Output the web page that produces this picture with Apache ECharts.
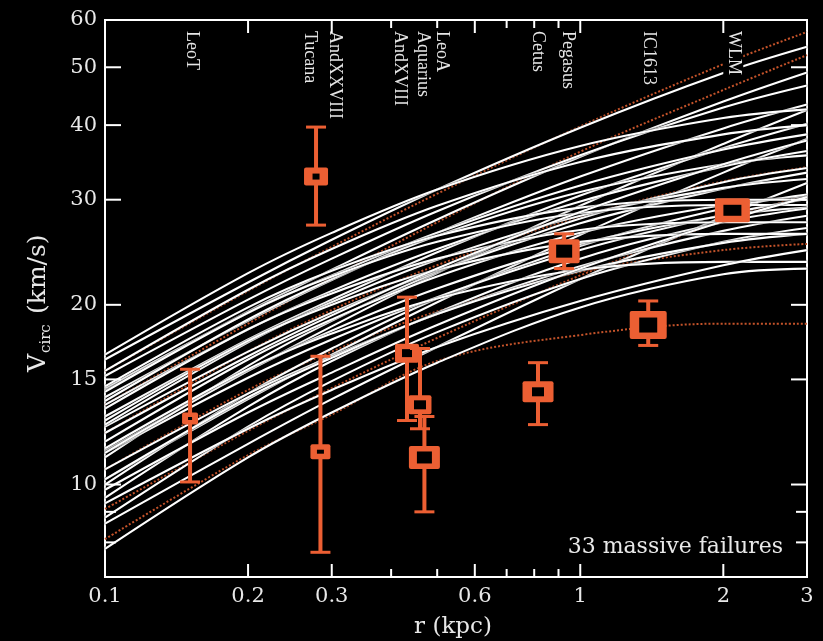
<!DOCTYPE html>
<html>
<head>
<meta charset="utf-8">
<script src="https://cdn.jsdelivr.net/npm/echarts@6/dist/echarts.min.js"></script>
<style>
html,body{margin:0;padding:0;background:#000;}
#chart{width:823px;height:641px;}
</style>
</head>
<body>
<div id="chart"></div>
<script>
// ---------- DATA ----------
const rGrid = [0.1, 0.2, 0.3, 0.5, 1, 2, 3];

// white model rotation curves, V (km/s) at rGrid
const whiteCurves = [
  [16.2, 21.8, 25.7, 31.2, 39.6, 48.9, 54.1],
  [14.4, 19.5, 22.9, 27.8, 35.4, 43.8, 49.0],
  [15.2, 20.4, 23.9, 28.7, 35.6, 42.8, 46.6],
  [14.0, 18.8, 22.0, 26.4, 32.8, 39.5, 43.3],
  [11.4, 15.5, 18.4, 22.6, 29.3, 37.2, 42.4],
  [16.5, 22.6, 26.4, 31.2, 36.9, 41.1, 42.5],
  [13.0, 17.5, 20.4, 24.5, 30.5, 36.6, 40.2],
  [14.5, 19.4, 22.4, 26.4, 31.7, 36.4, 38.6],
  [10.2, 13.9, 16.5, 20.2, 26.2, 33.3, 37.9],
  [13.8, 18.9, 22.1, 26.1, 30.9, 34.4, 35.6],
  [13.6, 18.2, 21.1, 24.8, 29.8, 34.1, 36.2],
  [11.1, 15.8, 18.8, 22.7, 27.9, 32.1, 33.9],
  [12.5, 16.7, 19.4, 22.8, 27.4, 31.3, 33.3],
  [12.6, 17.3, 20.2, 23.8, 28.2, 31.4, 32.5],
  [8.6, 11.7, 13.9, 17.0, 22.1, 28.1, 32.0],
  [11.8, 16.2, 18.9, 22.3, 26.4, 29.4, 30.4],
  [10.0, 14.2, 16.9, 20.5, 25.1, 29.0, 30.6],
  [11.3, 15.1, 17.5, 20.6, 24.7, 28.3, 30.1],
  [14.6, 19.8, 22.8, 26.1, 29.1, 30.0, 30.0],
  [14.3, 19.4, 22.3, 25.5, 28.5, 29.4, 29.4],
  [11.3, 15.5, 18.1, 21.3, 25.3, 28.2, 29.1],
  [9.5, 13.5, 16.1, 19.4, 23.9, 27.5, 29.0],
  [10.6, 14.2, 16.4, 19.3, 23.2, 26.6, 28.2],
  [13.4, 18.2, 20.9, 23.9, 26.7, 27.5, 27.5],
  [8.8, 12.5, 14.9, 18.0, 22.1, 25.5, 26.9],
  [10.2, 14.0, 16.3, 19.3, 22.8, 25.4, 26.3],
  [12.8, 17.4, 20.0, 22.9, 25.5, 26.3, 26.3],
  [7.8, 11.1, 13.2, 16.0, 19.8, 22.5, 23.0],
  [11.5, 15.6, 17.9, 20.5, 22.9, 23.6, 23.6],
  [9.3, 12.4, 14.4, 17.0, 20.3, 23.3, 24.7],
  [15.5, 21.2, 24.8, 29.3, 34.7, 38.6, 40.0],
  [12.2, 16.4, 19.2, 23.0, 28.6, 34.4, 37.7],
  [9.8, 13.2, 15.4, 18.5, 23.0, 27.6, 30.3]
];

// dotted orange model curves, V (km/s) at rGrid
const orangeCurves = [
  [15.5, 21.1, 25.0, 30.7, 39.8, 50.6, 57.3],
  [13.6, 18.6, 22.2, 27.5, 36.1, 45.8, 52.4],
  [12.2, 16.7, 19.6, 23.3, 28.1, 32.2, 34.0],
  [9.1, 12.3, 14.5, 17.6, 22.4, 27.7, 30.5],
  [10.6, 14.4, 16.7, 19.5, 22.7, 24.7, 25.3],
  [8.1, 11.2, 13.1, 16.1, 17.8, 18.6, 18.6]
];

// observed galaxies
const galaxyNames = ['LeoT', 'Tucana', 'AndXXVIII', 'AndXVIII', 'Aquarius', 'LeoA', 'Cetus', 'Pegasus', 'IC1613', 'WLM'];
const galaxyR     = [0.151, 0.278, 0.284, 0.432, 0.460, 0.470, 0.815, 0.925, 1.39, 2.09];
const galaxyV     = [12.9, 32.8, 11.35, 16.6, 13.6, 11.1, 14.3, 24.6, 18.5, 28.8];
const galaxyVHi   = [15.6, 39.7, 16.4, 20.6, 16.9, 13.0, 16.0, 26.3, 20.3, 29.3];
const galaxyVLo   = [10.1, 27.2, 7.7, 12.8, 12.4, 9.0, 12.6, 23.0, 17.1, 28.3];
// r at which each name label is printed along the top
const labelR      = [0.1525, 0.270, 0.305, 0.418, 0.467, 0.512, 0.812, 0.939, 1.391, 2.099];

// axis ticks
const xMajorTicks = [0.2, 0.3, 0.6, 1, 2];
const xMinorTicks = [0.4, 0.5, 0.7, 0.8, 0.9];
const yMajorTicks = [10, 15, 20, 30, 40, 50];
const yMinorTicks = [8, 9];
const xTickLabels = [0.1, 0.2, 0.3, 0.6, 1, 2, 3];
const yTickLabels = [10, 15, 20, 30, 40, 50, 60];

// ---------- STYLE ----------
const markerW = [16, 24, 20, 24, 23, 31, 31, 31, 37, 35];
const markerH = [12, 18, 15, 19, 19, 23, 21, 24, 28, 24];
const holeW   = [4, 7, 7, 10, 12, 15, 12, 16, 18, 18];
const holeH   = [3, 6, 4, 8, 9, 12, 9, 13, 15, 11];
const ORANGE = '#ec5f33';
const DOTTED = '#c4532a';
const SERIF = '"DejaVu Serif", serif';

const chart = echarts.init(document.getElementById('chart'));

const series = [];
orangeCurves.forEach((c) => {
  series.push({
    type: 'line', z: 2, smooth: 0.35, showSymbol: false, silent: true,
    data: rGrid.map((r, i) => [r, c[i]]),
    lineStyle: { color: DOTTED, width: 2, type: [2, 2] }
  });
});
whiteCurves.forEach((c) => {
  series.push({
    type: 'line', z: 3, smooth: 0.35, showSymbol: false, silent: true,
    data: rGrid.map((r, i) => [r, c[i]]),
    lineStyle: { color: '#ffffff', width: 2.1, shadowColor: '#000', shadowBlur: 1.5 }
  });
});

// error bars + hollow squares
series.push({
  type: 'custom', z: 6, silent: true,
  data: galaxyR.map((r, i) => [r, galaxyV[i], galaxyVLo[i], galaxyVHi[i], i]),
  encode: { x: 0, y: 1 },
  renderItem: function (params, api) {
    const i = api.value(4);
    const c = api.coord([api.value(0), api.value(1)]);
    const lo = api.coord([api.value(0), api.value(2)]);
    const hi = api.coord([api.value(0), api.value(3)]);
    const cw = 10;
    const w = markerW[i], h = markerH[i], hw = holeW[i], hh = holeH[i];
    return {
      type: 'group',
      children: [
        { type: 'line', shape: { x1: c[0], y1: hi[1], x2: c[0], y2: lo[1] }, style: { stroke: ORANGE, lineWidth: 4 } },
        { type: 'line', shape: { x1: c[0] - cw, y1: hi[1], x2: c[0] + cw, y2: hi[1] }, style: { stroke: ORANGE, lineWidth: 3 } },
        { type: 'line', shape: { x1: c[0] - cw, y1: lo[1], x2: c[0] + cw, y2: lo[1] }, style: { stroke: ORANGE, lineWidth: 3 } },
        { type: 'rect', shape: { x: c[0] - w / 2, y: c[1] - h / 2, width: w, height: h, r: 2 }, style: { fill: ORANGE } },
        { type: 'rect', shape: { x: c[0] - hw / 2, y: c[1] - hh / 2, width: hw, height: hh }, style: { fill: '#000' } }
      ]
    };
  }
});

// galaxy name labels along the top
series.push({
  type: 'custom', z: 8, silent: true,
  data: labelR.map((r, i) => [r, 50, i]),
  encode: { x: 0, y: 1 },
  renderItem: function (params, api) {
    const i = api.value(2);
    const p = api.coord([api.value(0), api.value(1)]);
    return {
      type: 'text', x: p[0], y: params.coordSys.y + 9, rotation: -Math.PI / 2,
      style: {
        text: galaxyNames[i], fill: '#e6e6e6', font: '18px "Liberation Serif", serif',
        align: 'left', verticalAlign: 'middle', backgroundColor: '#000', padding: [1, 2, 1, 2]
      }
    };
  }
});

// x ticks (bottom & top)
series.push({
  type: 'custom', z: 9, silent: true,
  data: xMajorTicks.map(v => [v, 10, 1]).concat(xMinorTicks.map(v => [v, 10, 0])),
  encode: { x: 0, y: 1 },
  renderItem: function (params, api) {
    const cs = params.coordSys;
    const x = api.coord([api.value(0), 10])[0];
    const len = api.value(2) ? 13 : 8;
    return {
      type: 'group', children: [
        { type: 'line', shape: { x1: x, y1: cs.y + cs.height, x2: x, y2: cs.y + cs.height - len }, style: { stroke: '#fff', lineWidth: 2 } },
        { type: 'line', shape: { x1: x, y1: cs.y, x2: x, y2: cs.y + len }, style: { stroke: '#fff', lineWidth: 2 } }
      ]
    };
  }
});
// y ticks (left & right)
series.push({
  type: 'custom', z: 9, silent: true,
  data: yMajorTicks.map(v => [1, v, 1]).concat(yMinorTicks.map(v => [1, v, 0])),
  encode: { x: 0, y: 1 },
  renderItem: function (params, api) {
    const cs = params.coordSys;
    const y = api.coord([1, api.value(1)])[1];
    const len = api.value(2) ? 16 : 11;
    return {
      type: 'group', children: [
        { type: 'line', shape: { x1: cs.x, y1: y, x2: cs.x + len, y2: y }, style: { stroke: '#fff', lineWidth: 2 } },
        { type: 'line', shape: { x1: cs.x + cs.width, y1: y, x2: cs.x + cs.width - len, y2: y }, style: { stroke: '#fff', lineWidth: 2 } }
      ]
    };
  }
});
// tick labels
series.push({
  type: 'custom', z: 9, silent: true,
  data: xTickLabels.map(v => [v, 10]),
  encode: { x: 0, y: 1 },
  renderItem: function (params, api) {
    const cs = params.coordSys;
    const x = api.coord([api.value(0), 10])[0];
    return {
      type: 'text', x: x, y: cs.y + cs.height + 9,
      style: { text: String(api.value(0)), fill: '#e8e8e8', font: '21px ' + SERIF, align: 'center', verticalAlign: 'top' }
    };
  }
});
series.push({
  type: 'custom', z: 9, silent: true,
  data: yTickLabels.map(v => [1, v]),
  encode: { x: 0, y: 1 },
  renderItem: function (params, api) {
    const cs = params.coordSys;
    const y = api.coord([1, api.value(1)])[1];
    return {
      type: 'text', x: cs.x - 8, y: y,
      style: { text: String(api.value(1)), fill: '#e8e8e8', font: '21px ' + SERIF, align: 'right', verticalAlign: 'middle' }
    };
  }
});

chart.setOption({
  backgroundColor: '#000',
  animation: false,
  grid: { left: 105, right: 16, top: 20, bottom: 64, show: true, borderColor: '#fff', borderWidth: 2, backgroundColor: 'transparent' },
  xAxis: {
    type: 'log', logBase: 10, min: 0.1, max: 3,
    axisLine: { show: false }, axisTick: { show: false }, axisLabel: { show: false }, splitLine: { show: false }
  },
  yAxis: {
    type: 'log', logBase: 10, min: 7, max: 60,
    axisLine: { show: false }, axisTick: { show: false }, axisLabel: { show: false }, splitLine: { show: false }
  },
  graphic: [
    {
      type: 'group', x: 38, y: 300, rotation: Math.PI / 2, z: 20,
      children: [
        { type: 'text', x: -72, y: 0, style: { text: 'V', fill: '#e8e8e8', font: '25px ' + SERIF, verticalAlign: 'middle' } },
        { type: 'text', x: -53, y: 8, style: { text: 'circ', fill: '#e8e8e8', font: '15px ' + SERIF, verticalAlign: 'middle' } },
        { type: 'text', x: -14, y: 0, style: { text: '(km/s)', fill: '#e8e8e8', font: '25px ' + SERIF, verticalAlign: 'middle' } }
      ]
    },
    { type: 'text', x: 453, y: 627, z: 20, style: { text: 'r (kpc)', fill: '#e8e8e8', font: '23px ' + SERIF, align: 'center', verticalAlign: 'middle' } },
    { type: 'text', x: 783, y: 547, z: 20, style: { text: '33 massive failures', fill: '#e8e8e8', font: '22px ' + SERIF, align: 'right', verticalAlign: 'middle' } }
  ],
  series: series
});
</script>
</body>
</html>
